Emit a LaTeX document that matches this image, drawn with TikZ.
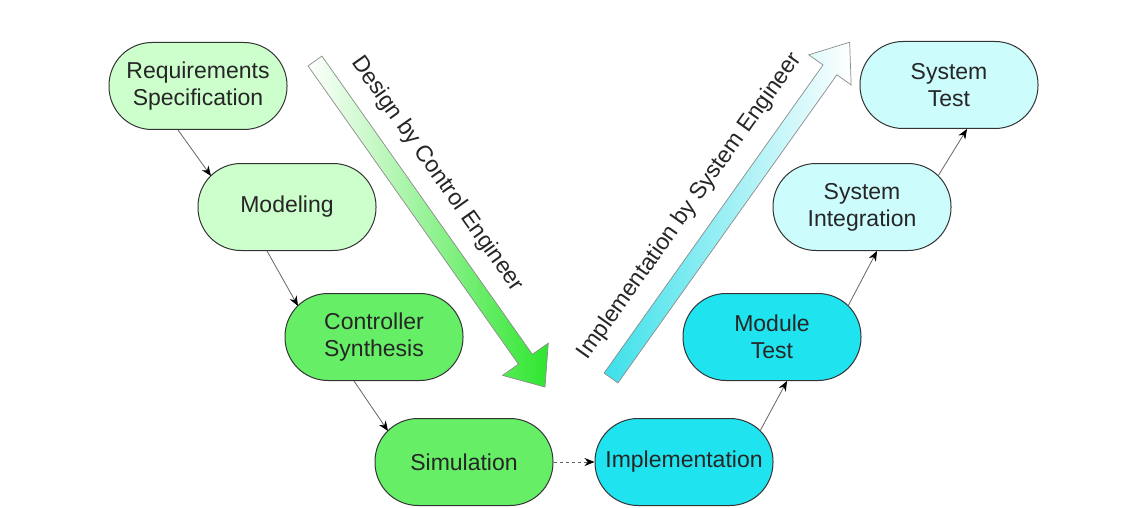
\documentclass[tikz,border=0pt]{standalone}
\usepackage{fontspec}
\setmainfont{Liberation Sans}
\usetikzlibrary{arrows.meta}
\definecolor{paleGreen}{HTML}{CCFFCC}
\definecolor{midGreen}{HTML}{66EE66}
\definecolor{deepCyan}{HTML}{1FE3EE}
\definecolor{paleCyan}{HTML}{CCFCFC}
\definecolor{bigGreen}{HTML}{2EE62E}
\definecolor{bigCyan}{HTML}{3CE0EA}
\tikzset{
  stage/.style={draw=black!80, line width=1pt, rounded corners=43pt,
    minimum width=178pt, minimum height=87pt, align=center,
    text=black!85, font=\fontsize{23}{27}\selectfont},
  link/.style={draw=black!60, line width=0.8pt,
    -{Stealth[length=10pt,width=8pt,color=black]}},
  tag/.style={text=black!85, font=\fontsize{23}{27}\selectfont}
}
\begin{document}
\begin{tikzpicture}[x=1pt,y=-1pt]
\useasboundingbox (0,0) rectangle (1140,508);
\fill[white] (0,0) rectangle (1140,508);

\begin{scope}[shift={(315,61)},rotate=-54.8]
\shadedraw[draw=black!45, line width=0.7pt, left color=white, middle color=bigGreen!55!white, right color=bigGreen]
  (0,-8.5) -- (365,-8.5) -- (365,-28) -- (399,0) -- (365,28) -- (365,8.5) -- (0,8.5) -- cycle;
\end{scope}
\begin{scope}[shift={(611,378)},rotate=54.6]
\shadedraw[draw=black!45, line width=0.7pt, left color=bigCyan, middle color=bigCyan!85!white, right color=white]
  (0,-8.5) -- (378,-8.5) -- (378,-26) -- (412,0) -- (378,26) -- (378,8.5) -- (0,8.5) -- cycle;
\end{scope}
\node[tag, rotate=-54.8] (designtxt) at (437,174) {Design by Control Engineer};
\node[tag, rotate=54.6] (impltxt) at (690,206) {Implementation by System Engineer};

\node[stage, fill=paleGreen] (req) at (198,86) {Requirements\\Specification};
\node[stage, fill=paleGreen] (mod) at (287,207) {Modeling};
\node[stage, fill=midGreen] (ctrl) at (374,337) {Controller\\Synthesis};
\node[stage, fill=midGreen] (sim) at (464,462) {Simulation};
\node[stage, fill=deepCyan] (impl) at (684,462) {Implementation};
\node[stage, fill=deepCyan] (modt) at (772,337) {Module\\Test};
\node[stage, fill=paleCyan] (sint) at (862,207) {System\\Integration};
\node[stage, fill=paleCyan] (stest) at (949,85) {System\\Test};

\draw[link] ([xshift=-20pt]req.south) -- ([shift={(-76,-31)}]mod.center);
\draw[link] ([xshift=-20pt]mod.south) -- ([shift={(-76,-31)}]ctrl.center);
\draw[link] ([xshift=-20pt]ctrl.south) -- ([shift={(-76,-31)}]sim.center);
\draw[link, dashed] (sim) -- (impl);
\draw[link] ([shift={(76,-31)}]impl.center) -- ([xshift=15pt]modt.south);
\draw[link] ([shift={(76,-31)}]modt.center) -- ([xshift=15pt]sint.south);
\draw[link] ([shift={(76,-31)}]sint.center) -- ([xshift=18pt]stest.south);
\end{tikzpicture}
\end{document}
